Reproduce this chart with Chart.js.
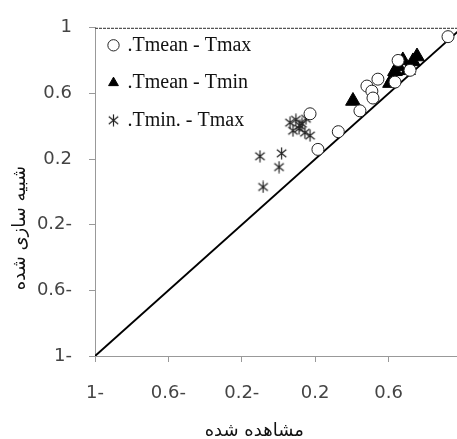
<!DOCTYPE html>
<html>
<head>
<meta charset="utf-8">
<script src="https://cdn.jsdelivr.net/npm/chart.js@4/dist/chart.umd.min.js"></script>
<style>
  html, body { margin: 0; padding: 0; background: #fff; }
  #wrap { width: 457px; height: 439px; }
</style>
</head>
<body>
<div id="wrap"><canvas id="chart" width="457" height="439"></canvas></div>
<script>
const meanMaxX = [0.924, 0.652, 0.542, 0.482, 0.509, 0.515, 0.444, 0.326, 0.215, 0.172, 0.635, 0.717];
const meanMaxY = [0.946, 0.801, 0.687, 0.645, 0.614, 0.572, 0.494, 0.367, 0.259, 0.476, 0.669, 0.741];

const meanMinX = [0.406, 0.608, 0.624, 0.635, 0.652, 0.678, 0.706, 0.733, 0.755];
const meanMinY = [0.554, 0.663, 0.693, 0.735, 0.765, 0.801, 0.741, 0.795, 0.825];

const minMaxX = [-0.101, 0.017, 0.003, -0.084, 0.063, 0.095, 0.128, 0.150, 0.079, 0.112, 0.144, 0.172, 0.117];
const minMaxY = [0.217, 0.235, 0.151, 0.030, 0.422, 0.440, 0.416, 0.446, 0.373, 0.386, 0.361, 0.343, 0.404];

const lineX = [-1, 1];
const lineY = [-1, 1];

const seriesNames = ['.Tmean - Tmax', '.Tmean - Tmin', '.Tmin. - Tmax'];

const xTickVals = [-1, -0.6, -0.2, 0.2, 0.6];
const xTickLabels = ['1-', '0.6-', '0.2-', '0.2', '0.6'];
const yTickVals = [-1, -0.6, -0.2, 0.2, 0.6, 1];
const yTickLabels = ['1-', '0.6-', '0.2-', '0.2', '0.6', '1'];

const xTitle = 'مشاهده شده';
const yTitle = 'شبیه سازی شده';

function toPoints(xs, ys) {
    return xs.map((x, i) => ({ x: x, y: ys[i] }));
}

// asterisk marker (vertical bar + X), used for points and legend
function makeAsterisk(size) {
    const c = document.createElement('canvas');
    c.width = size;
    c.height = size;
    const g = c.getContext('2d');
    g.strokeStyle = '#222';
    g.lineWidth = 1.2;
    const m = size / 2, r = size / 2 - 0.5;
    const angles = [90, 38, 142];
    g.beginPath();
    angles.forEach(deg => {
        const a = deg * Math.PI / 180;
        g.moveTo(m + r * Math.cos(a), m - r * Math.sin(a));
        g.lineTo(m - r * Math.cos(a), m + r * Math.sin(a));
    });
    g.stroke();
    return c;
}
const asterisk = makeAsterisk(13);

// axis titles + dashed top frame line
const frameAndTitles = {
    id: 'frameAndTitles',
    afterDraw(chart) {
        const ctx = chart.ctx;
        const area = chart.chartArea;
        ctx.save();
        ctx.strokeStyle = '#555';
        ctx.lineWidth = 1.2;
        ctx.setLineDash([3, 1]);
        ctx.beginPath();
        ctx.moveTo(area.left, area.top + 0.5);
        ctx.lineTo(chart.width, area.top + 0.5);
        ctx.stroke();
        ctx.setLineDash([]);

        ctx.fillStyle = '#111';
        ctx.font = '18px "DejaVu Sans"';
        ctx.textAlign = 'center';
        ctx.textBaseline = 'middle';
        ctx.fillText(xTitle, area.left + (area.right - area.left) * 0.44, 431);
        ctx.translate(20, area.top + (area.bottom - area.top) * 0.61);
        ctx.rotate(-Math.PI / 2);
        ctx.fillText(yTitle, 0, 0);
        ctx.restore();
    }
};

// put the legend in the upper left corner of the plot
const legendPlace = {
    id: 'legendPlace',
    afterLayout(chart) {
        if (!chart.legend) return;
        chart.legend.top = chart.chartArea.top - 10;
        chart.legend.left = chart.chartArea.left - 3;
    }
};

const ctx = document.getElementById('chart').getContext('2d');
new Chart(ctx, {
    type: 'scatter',
    data: {
        datasets: [
            {
                label: seriesNames[0],
                data: toPoints(meanMaxX, meanMaxY),
                pointStyle: 'circle',
                pointRadius: 6,
                backgroundColor: '#fff',
                borderColor: '#222',
                borderWidth: 1
            },
            {
                label: seriesNames[1],
                data: toPoints(meanMinX, meanMinY),
                pointStyle: 'triangle',
                pointRadius: 8.5,
                backgroundColor: '#000',
                borderColor: '#000',
                borderWidth: 1
            },
            {
                label: seriesNames[2],
                data: toPoints(minMaxX, minMaxY),
                pointStyle: asterisk,
                pointRadius: 6,
                backgroundColor: '#222',
                borderColor: '#222'
            },
            {
                type: 'line',
                label: '1:1',
                data: toPoints(lineX, lineY),
                borderColor: '#000',
                borderWidth: 2,
                pointRadius: 0,
                fill: false
            }
        ]
    },
    options: {
        responsive: false,
        animation: false,
        layout: { autoPadding: false, padding: { top: 24, right: 0, left: 0, bottom: 0 } },
        plugins: {
            tooltip: { enabled: false },
            legend: {
                position: 'chartArea',
                align: 'start',
                labels: {
                    usePointStyle: true,
                    boxWidth: 8,
                    boxHeight: 8,
                    padding: 17.5,
                    color: '#111',
                    font: { family: '"Liberation Serif"', size: 20 },
                    filter: item => item.datasetIndex < 3
                }
            }
        },
        scales: {
            x: {
                type: 'linear',
                min: -1,
                max: 0.973,
                afterFit: s => { s.height = 83; s.paddingRight = 0; s.paddingLeft = 0; },
                afterBuildTicks: s => { s.ticks = xTickVals.map(v => ({ value: v })); },
                ticks: {
                    callback: (v, i) => xTickLabels[i],
                    color: '#444',
                    padding: 21,
                    maxRotation: 0,
                    font: { family: '"DejaVu Sans"', size: 18 }
                },
                grid: { drawOnChartArea: false, drawTicks: true, tickLength: 6, color: '#999' },
                border: { color: '#999', width: 1 }
            },
            y: {
                type: 'linear',
                min: -1,
                max: 1,
                afterFit: s => { s.width = 95; },
                afterBuildTicks: s => { s.ticks = yTickVals.map(v => ({ value: v })); },
                ticks: {
                    callback: (v, i) => yTickLabels[i],
                    color: '#444',
                    padding: 17,
                    font: { family: '"DejaVu Sans"', size: 18 }
                },
                grid: { drawOnChartArea: false, drawTicks: true, tickLength: 6, color: '#999' },
                border: { color: '#999', width: 1 }
            }
        }
    },
    plugins: [frameAndTitles, legendPlace]
});
</script>
</body>
</html>
